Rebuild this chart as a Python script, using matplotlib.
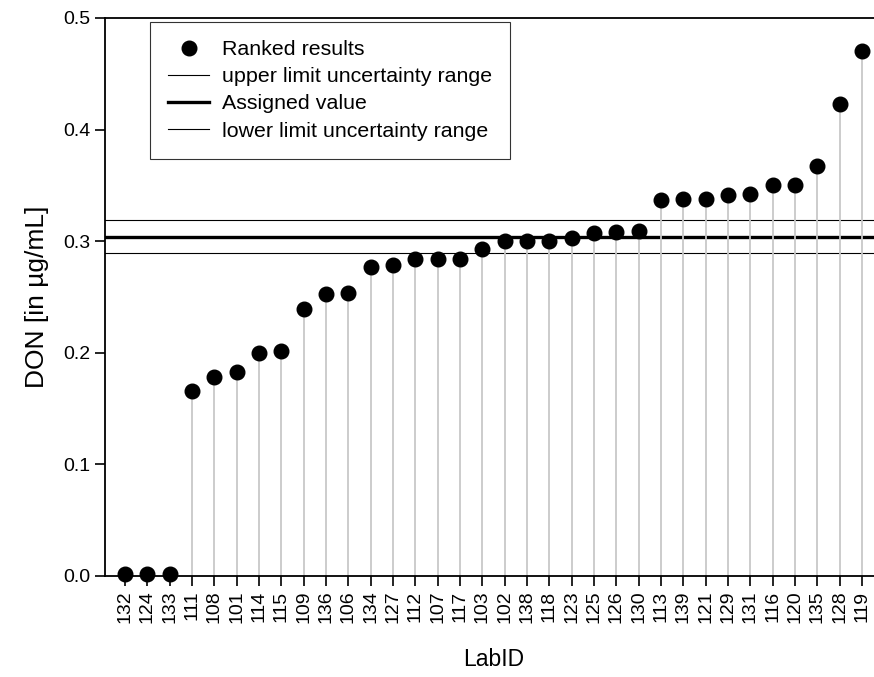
import matplotlib
matplotlib.use("Agg")
import matplotlib.pyplot as plt
import numpy as np

plt.rcParams['font.family'] = ['Liberation Sans', 'DejaVu Sans']

# datos
lab_ids = ['132', '124', '133', '111', '108', '101', '114', '115', '109', '136',
           '106', '134', '127', '112', '107', '117', '103', '102', '138', '118',
           '123', '125', '126', '130', '113', '139', '121', '129', '131', '116',
           '120', '135', '128', '119']
resultados = [0.002, 0.002, 0.002, 0.166, 0.178, 0.183, 0.200, 0.202, 0.239, 0.253,
              0.254, 0.277, 0.279, 0.284, 0.284, 0.284, 0.293, 0.300, 0.300, 0.300,
              0.303, 0.307, 0.308, 0.309, 0.337, 0.338, 0.338, 0.341, 0.342, 0.350,
              0.350, 0.367, 0.423, 0.470]
valor_asignado = 0.304
limite_superior = 0.319
limite_inferior = 0.289

fig = plt.figure(figsize=(8.74, 6.77), dpi=100)
ax = fig.add_axes([105 / 874, 101 / 677, 777 / 874, 558 / 677])

x = np.arange(1, len(lab_ids) + 1)

# lineas horizontales de referencia
l_sup = ax.axhline(limite_superior, color='black', lw=0.8, zorder=1)
l_asig = ax.axhline(valor_asignado, color='black', lw=2.4, zorder=1)
l_inf = ax.axhline(limite_inferior, color='black', lw=0.8, zorder=1)

# lineas verticales desde cada punto
ax.vlines(x, 0, resultados, color='#c8c8c8', lw=1.3, zorder=2)
puntos, = ax.plot(x, resultados, 'o', color='black', markersize=10.5, zorder=3, clip_on=False)

ax.set_xlim(0.104, 34.9)
ax.set_ylim(0, 0.5)
ax.set_yticks([0.0, 0.1, 0.2, 0.3, 0.4, 0.5])
ax.set_yticklabels(['0.0', '0.1', '0.2', '0.3', '0.4', '0.5'], fontsize=14)
ax.set_xticks(x)
ax.set_xticklabels(lab_ids, rotation=90, fontsize=14)
ax.tick_params(axis='both', direction='out', length=7, width=1.2)

ax.spines['right'].set_visible(False)
for s in ['left', 'bottom', 'top']:
    ax.spines[s].set_linewidth(1.3)

ax.set_ylabel('DON [in µg/mL]', fontsize=19, labelpad=10)
ax.set_xlabel('LabID', fontsize=16.5, labelpad=18)

leg = ax.legend([puntos, l_sup, l_asig, l_inf],
                ['Ranked results', 'upper limit uncertainty range',
                 'Assigned value', 'lower limit uncertainty range'],
                loc='upper left', bbox_to_anchor=(45 / 777, 1 - 4 / 558),
                fontsize=15.4, frameon=True, fancybox=False, edgecolor='black',
                handlelength=1.9, labelspacing=0.38, borderpad=0.85,
                handletextpad=0.6, borderaxespad=0)
leg.get_frame().set_linewidth(0.8)

fig.savefig('out.png', dpi=100)
